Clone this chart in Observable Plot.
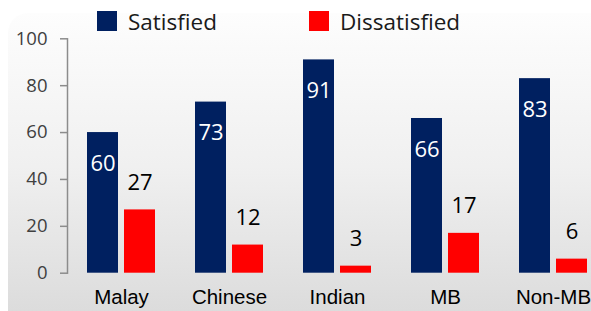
<!DOCTYPE html>
<html>
<head>
<meta charset="utf-8">
<script src="https://cdn.jsdelivr.net/npm/d3@7"></script>
<script src="https://cdn.jsdelivr.net/npm/@observablehq/plot@0.6"></script>
<style>
  html, body { margin: 0; padding: 0; background: #fff; }
  #wrap { position: relative; width: 591px; height: 311px; overflow: hidden; }
  #bg { position: absolute; left: 8px; top: 13px; width: 640px; height: 340px; border-radius: 20px;
        background: linear-gradient(to bottom, #fdfdfd 0%, #f0f0f0 45%, #d6d6d6 100%); }
  #legend { position: relative; height: 36px; font-family: "Open Sans", sans-serif; font-size: 22.5px; color: #1a1a1a; }
  .item { position: absolute; top: 5px; height: 32px; display: flex; align-items: center; }
  .sw { width: 20px; height: 20px; margin-right: 11px; box-sizing: border-box; }
  #chart { position: relative; }
  #chart svg { max-width: none !important; }
  #chart g[aria-label="y-axis tick label"] text { font-size: 18.5px !important; font-family: "Open Sans", sans-serif !important; fill: #404040 !important; }
  #chart g[aria-label="fx-axis tick label"] text { font-size: 20.5px !important; font-family: "Liberation Sans", Arial, sans-serif !important; fill: #000 !important; }
</style>
</head>
<body>
<div id="wrap">
  <div id="bg"></div>
  <div id="legend"></div>
  <div id="chart"></div>
</div>
<script>
const categories = ["Malay", "Chinese", "Indian", "MB", "Non-MB"];
const series = ["Satisfied", "Dissatisfied"];
const satisfied = [60, 73, 91, 66, 83];
const dissatisfied = [27, 12, 3, 17, 6];
const yTicks = [0, 20, 40, 60, 80, 100];
const colors = ["#002060", "#ff0000"];

const rows = [];
categories.forEach((c, i) => {
  rows.push({category: c, series: series[0], value: satisfied[i]});
  rows.push({category: c, series: series[1], value: dissatisfied[i]});
});

// legend
const legend = document.getElementById("legend");
const legendLeft = [97, 309];
series.forEach((s, i) => {
  const it = document.createElement("div");
  it.className = "item";
  it.style.left = legendLeft[i] + "px";
  const sw = document.createElement("div");
  sw.className = "sw";
  sw.style.background = colors[i];
  it.appendChild(sw);
  const t = document.createElement("span");
  t.textContent = s;
  it.appendChild(t);
  legend.appendChild(it);
});

const chart = Plot.plot({
  width: 608,
  height: 275,
  marginLeft: 65,
  marginRight: 0,
  marginTop: 2.3,
  marginBottom: 38.3,
  style: {background: "transparent", maxWidth: "none", overflow: "visible"},
  fx: {domain: categories, paddingInner: 0, paddingOuter: 0, label: null},
  x: {domain: series, axis: null, insetLeft: 19.25, insetRight: 19.25, paddingInner: 0.16, paddingOuter: 0},
  y: {domain: [0, 100], axis: null},
  color: {domain: series, range: colors},
  marks: [
    Plot.frame({anchor: "left", facetAnchor: "left", stroke: "#8c8c8c", strokeWidth: 1.5}),
    Plot.axisY({ticks: yTicks, tickSize: 7, tickPadding: 13, facetAnchor: "left", label: null,
                stroke: "#8c8c8c", strokeWidth: 1.5, fill: "#404040"}),
    Plot.axisFx({anchor: "bottom", tickSize: 0, tickPadding: 16, label: null, fill: "#000"}),
    Plot.barY(rows, {fx: "category", x: "series", y: "value", fill: "series"}),
    Plot.text(rows.filter(d => d.series === series[0]), {fx: "category", x: "series", y: "value", text: d => String(d.value),
      dy: 31, fill: "#fff", fontSize: 22, fontFamily: "Open Sans"}),
    Plot.text(rows.filter(d => d.series === series[1]), {fx: "category", x: "series", y: "value", text: d => String(d.value),
      dy: -27, fill: "#000", fontSize: 22, fontFamily: "Open Sans"})
  ]
});
document.getElementById("chart").appendChild(chart);
</script>
</body>
</html>
